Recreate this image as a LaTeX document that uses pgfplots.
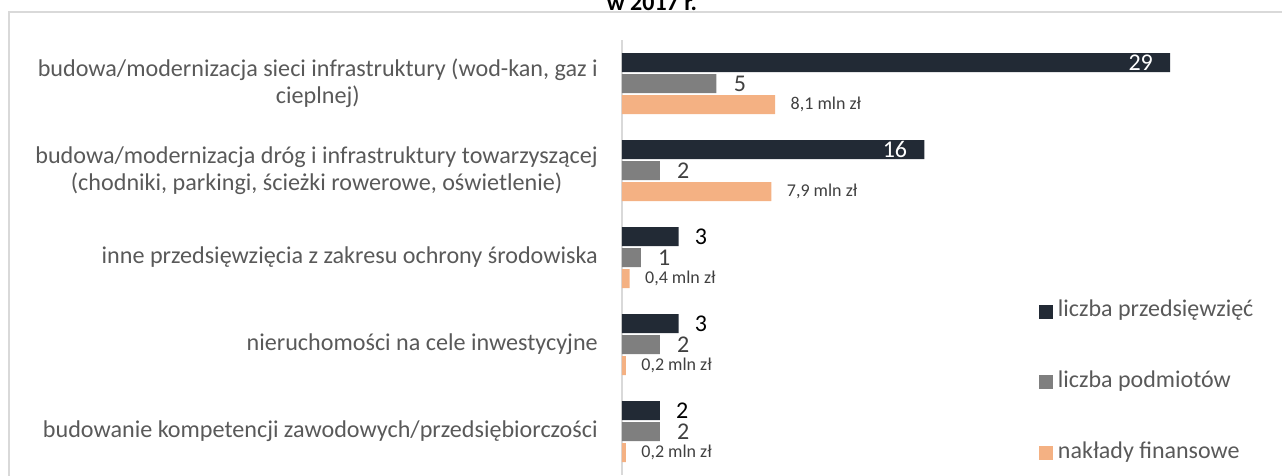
\documentclass[border=0pt]{standalone}
\usepackage{fontspec}
\setmainfont{Carlito}
\usepackage{pgfplots}
\pgfplotsset{compat=1.18}
\definecolor{cdark}{HTML}{222A35}
\definecolor{cgrey}{HTML}{7F7F7F}
\definecolor{corange}{HTML}{F4B183}
\definecolor{ctext}{HTML}{595959}
\definecolor{clabel}{HTML}{404040}
\definecolor{cframe}{HTML}{D9D9D9}
\pgfplotsset{sqleg/.style={legend image code/.code={\fill[##1] (0pt,-5.25pt) rectangle (10.5pt,5.25pt); \path (12.5pt,0pt);}}}
\begin{document}
\begin{tikzpicture}
\useasboundingbox (0pt,0pt) rectangle (961.5pt,356.25pt);
\draw[color=cframe, line width=1.5pt] (6.375pt,-5pt) -- (6.375pt,347.25pt) -- (970pt,347.25pt);
\node[font=\fontsize{18}{20}\selectfont\bfseries, anchor=base, inner sep=0pt] at (489pt,348.5pt) {w 2017 r.};
\begin{axis}[
  at={(466.5pt,0pt)}, anchor=south west,
  scale only axis, width=481.95pt, height=326.25pt,
  xmin=0, xmax=34, ymin=-0.5, ymax=4.5,
  y dir=reverse,
  xbar, bar width=14.25pt, bar shift=0pt,
  axis x line=none, axis y line=left,
  y axis line style={draw=cframe, line width=1.5pt, -},
  major tick length=0pt,
  ytick={0,1,2,3,4},
  yticklabels={{budowa/modernizacja sieci infrastruktury (wod-kan, gaz i\\cieplnej)},
    {budowa/modernizacja dróg i infrastruktury towarzyszącej\\(chodniki, parkingi, ścieżki rowerowe, oświetlenie)},
    {inne przedsięwzięcia z zakresu ochrony środowiska},
    {nieruchomości na cele inwestycyjne},
    {budowanie kompetencji zawodowych/przedsiębiorczości}},
  yticklabel style={font=\fontsize{18.1}{20.25}\selectfont, text=ctext, align=center, inner sep=0pt, xshift=-18pt},
  point meta=explicit symbolic,
  legend style={at={(0.649,0.2135)}, anchor=west, draw=none, fill=none, inner sep=0pt,
    font=\fontsize{18}{20}\selectfont, text=ctext, row sep=33.9pt,
    nodes={inner sep=1.5pt, text height=12pt, text depth=4pt}},
  legend cell align=left,
  clip=false,
]
\addplot[sqleg, fill=cdark, draw=none, nodes near coords,
  nodes near coords style={anchor=east, text=white, inner sep=0pt, xshift=-12.75pt, font=\fontsize{18}{20}\selectfont}]
  coordinates {(29,-0.2414)[29] (16,0.7586)[16]};
\addplot[sqleg, forget plot, fill=cdark, draw=none, nodes near coords,
  nodes near coords style={anchor=west, text=black, inner sep=0pt, xshift=12pt, font=\fontsize{18}{20}\selectfont}]
  coordinates {(3,1.7586)[3] (3,2.7586)[3] (2,3.7586)[2]};
\addplot[sqleg, fill=cgrey, draw=none, nodes near coords,
  nodes near coords style={anchor=west, text=clabel, inner sep=0pt, xshift=12.75pt, font=\fontsize{18}{20}\selectfont}]
  coordinates {(5,0)[5] (2,1)[2] (1,2)[1] (2,3)[2] (2,4)[2]};
\addplot[sqleg, fill=corange, draw=none, nodes near coords,
  nodes near coords style={anchor=west, text=clabel, inner sep=0pt, xshift=11.5pt, font=\fontsize{13.5}{15}\selectfont}]
  coordinates {(8.1,0.2414)[{8,1 mln zł}] (7.9,1.2414)[{7,9 mln zł}] (0.4,2.2414)[{0,4 mln zł}] (0.2,3.2414)[{0,2 mln zł}] (0.2,4.2414)[{0,2 mln zł}]};
\legend{liczba przedsięwzięć, liczba podmiotów, nakłady finansowe}
\end{axis}
\end{tikzpicture}
\end{document}
